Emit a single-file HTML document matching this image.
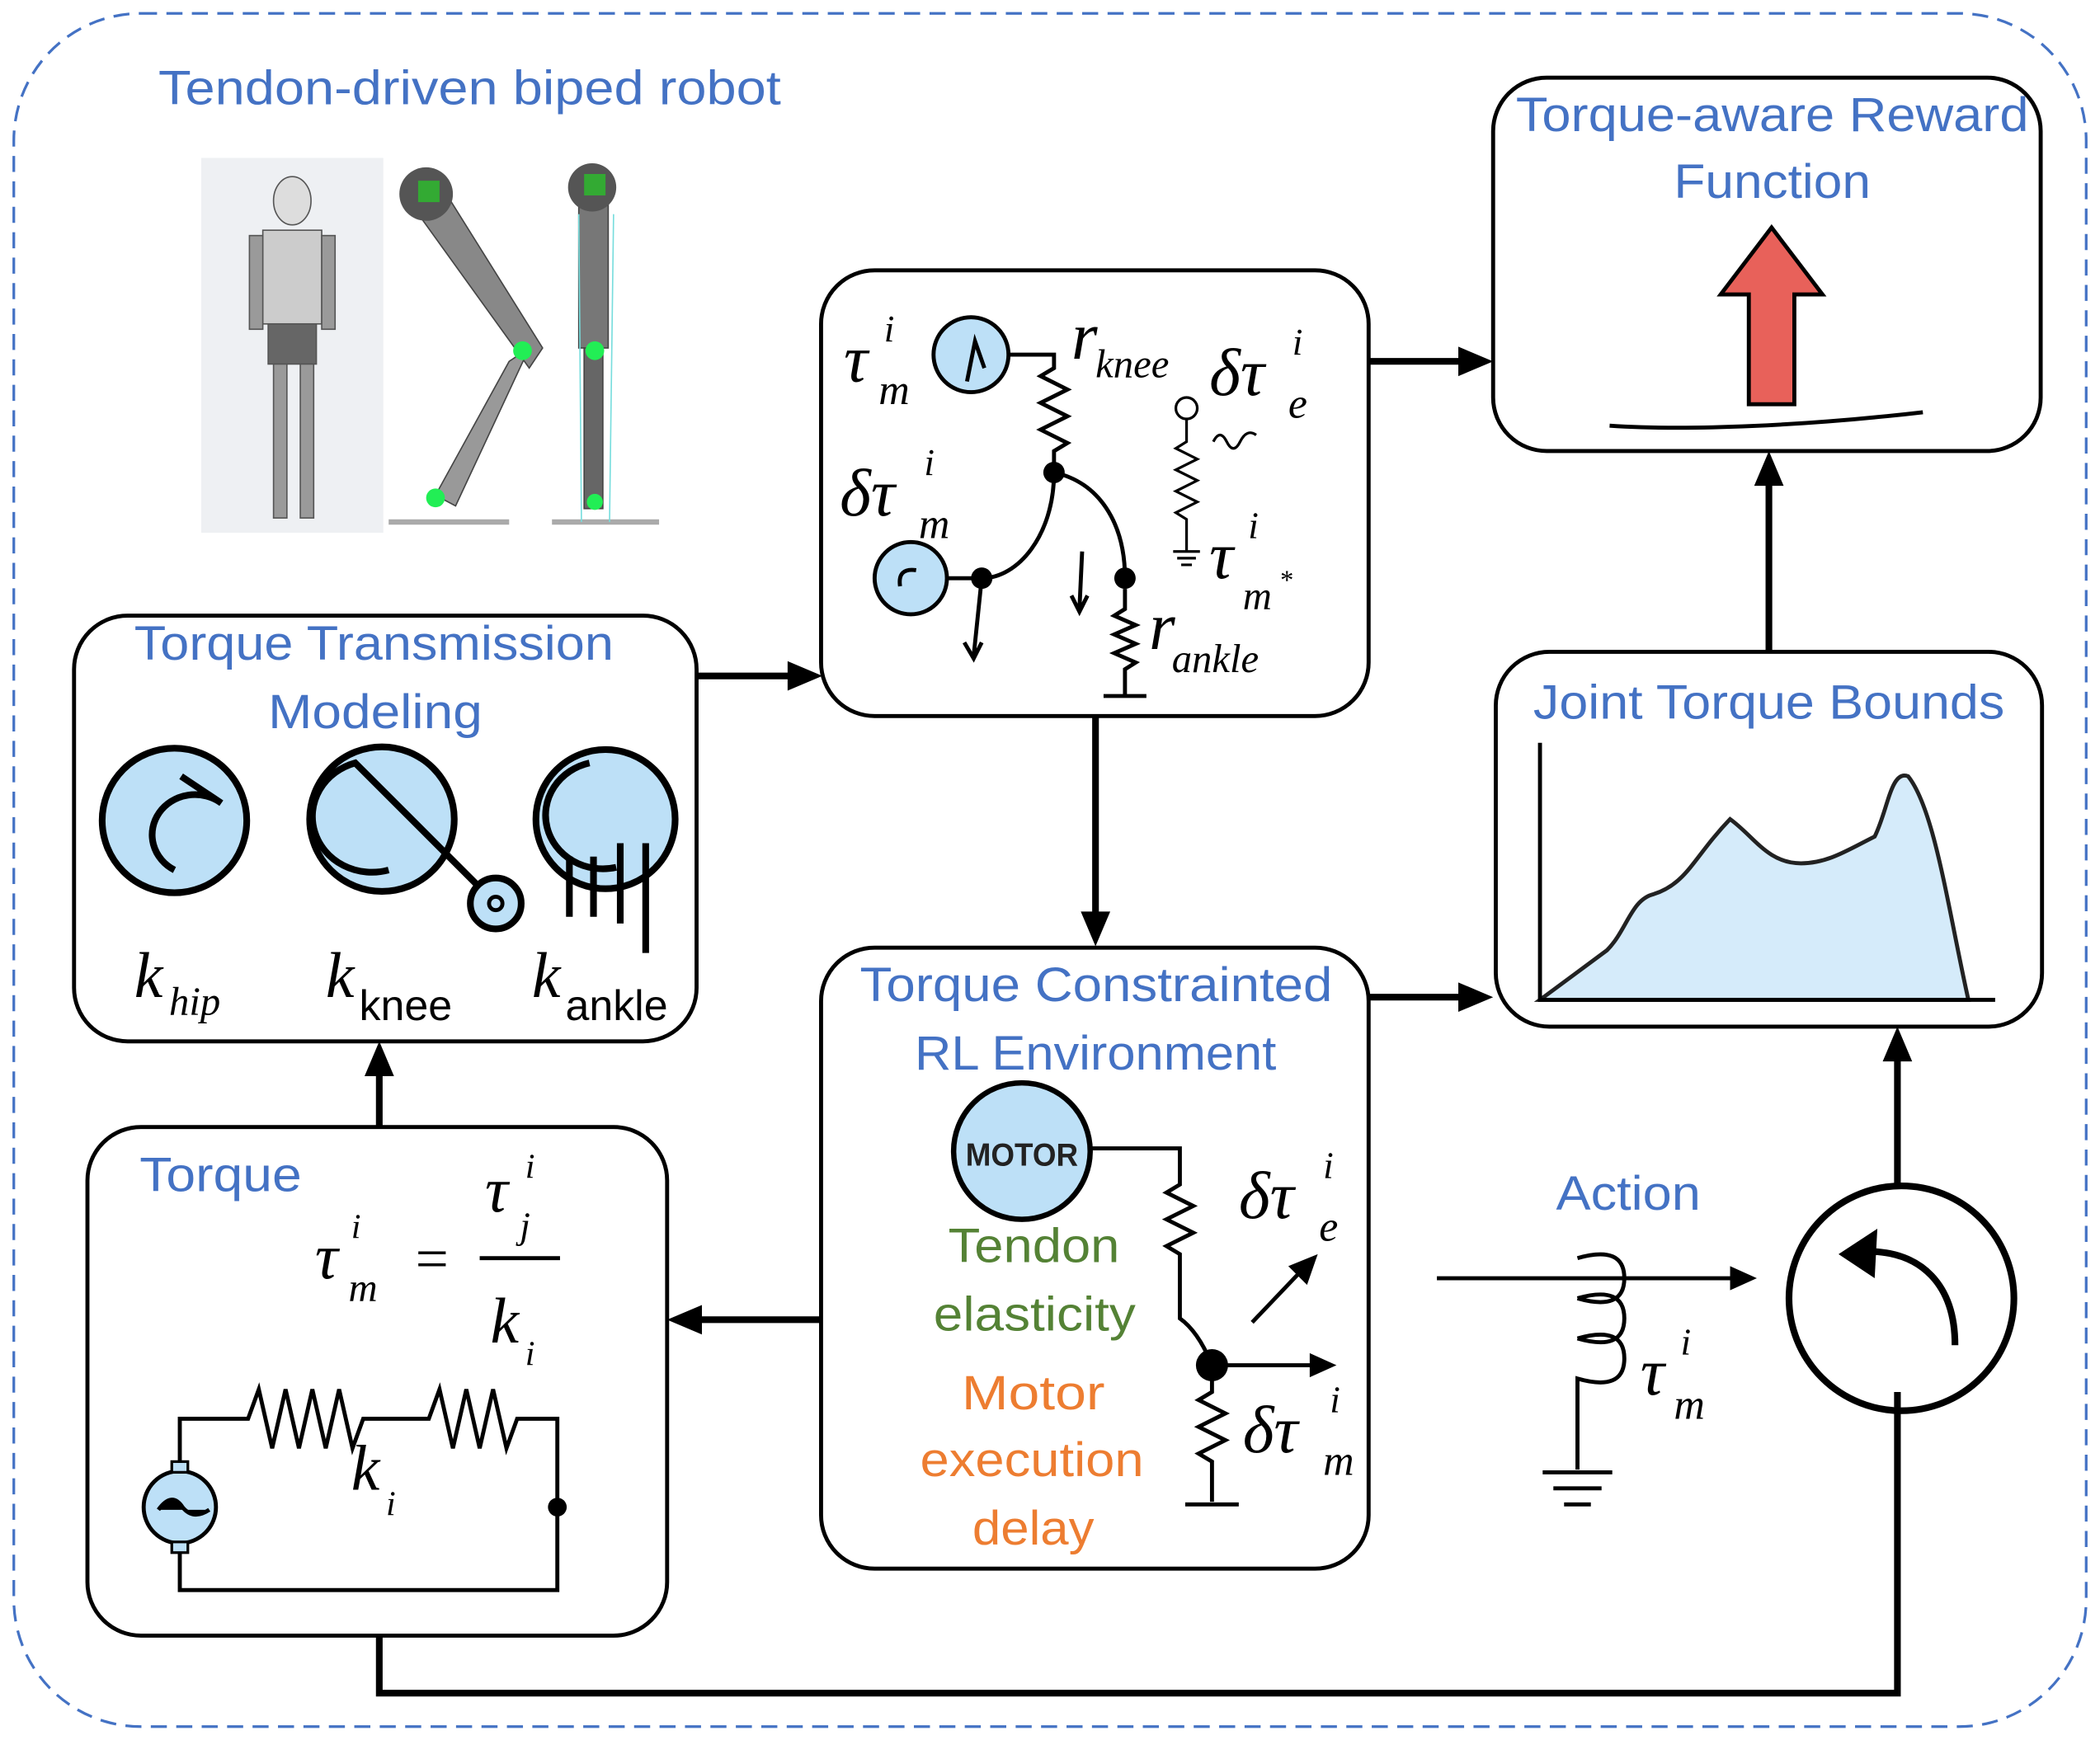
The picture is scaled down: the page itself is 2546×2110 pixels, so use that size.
<!DOCTYPE html>
<html><head><style>
html,body{margin:0;padding:0;background:#fff;}
svg{display:block;}
.b{font-family:"Liberation Sans","DejaVu Sans",sans-serif;fill:#4472C4;font-size:36px;}
.m{font-family:"Liberation Serif","DejaVu Serif",serif;font-style:italic;fill:#000;}
.box{fill:#fff;stroke:#000;stroke-width:3;}
.ln{stroke:#000;stroke-width:5;fill:none;}
.th{stroke:#000;stroke-width:3;fill:none;}
.g{font-family:"Liberation Sans",sans-serif;font-size:36px;fill:#548235;}
.o{font-family:"Liberation Sans",sans-serif;font-size:36px;fill:#ED7D31;}
</style></head><body>
<svg width="2546" height="2110" viewBox="0 0 1568 1300" xmlns="http://www.w3.org/2000/svg">
<rect x="10" y="10" width="1548" height="1280" rx="95" fill="none" stroke="#4472C4" stroke-width="2" stroke-dasharray="12,7"/>
<text class="b" x="118" y="78" textLength="465" lengthAdjust="spacingAndGlyphs">Tendon-driven biped robot</text>

<!-- robot images -->
<rect x="150" y="118" width="136" height="280" fill="#eef0f3"/>
<g fill="#9a9a9a" stroke="#555" stroke-width="1">
<ellipse cx="218" cy="150" rx="14" ry="18" fill="#ddd"/>
<rect x="196" y="172" width="44" height="70" fill="#ccc"/>
<rect x="186" y="176" width="10" height="70"/><rect x="240" y="176" width="10" height="70"/>
<rect x="200" y="242" width="36" height="30" fill="#666"/>
<rect x="204" y="272" width="10" height="115"/><rect x="224" y="272" width="10" height="115"/>
</g>
<g>
<polygon points="305,150 330,140 405,260 395,275" fill="#888" stroke="#444"/>
<polygon points="395,260 380,270 325,370 340,378" fill="#999" stroke="#444"/>
<circle cx="318" cy="145" r="20" fill="#555"/><rect x="312" y="135" width="16" height="16" fill="#3a3"/>
<circle cx="390" cy="262" r="7" fill="#2e5"/><circle cx="325" cy="372" r="7" fill="#2e5"/>
<path d="M290,390 L380,390" stroke="#aaa" stroke-width="4"/>
<rect x="432" y="150" width="22" height="110" fill="#777" stroke="#444"/>
<rect x="436" y="260" width="14" height="120" fill="#666" stroke="#444"/>
<circle cx="442" cy="140" r="18" fill="#555"/><rect x="436" y="130" width="16" height="16" fill="#3a3"/>
<circle cx="444" cy="262" r="7" fill="#2e5"/><circle cx="444" cy="375" r="6" fill="#2e5"/>
<path d="M412,390 L492,390" stroke="#aaa" stroke-width="4"/>
<path d="M432,160 L434,390 M458,160 L455,390" stroke="#7dd" stroke-width="1"/>
</g>

<!-- Torque Transmission box -->
<rect class="box" x="55" y="460" width="465" height="318" rx="40"/>
<text class="b" x="100" y="493" textLength="358" lengthAdjust="spacingAndGlyphs">Torque Transmission</text>
<text class="b" x="200" y="544" textLength="160" lengthAdjust="spacingAndGlyphs">Modeling</text>
<g stroke="#000" stroke-width="5" fill="#BDE0F7">
<circle cx="130" cy="613" r="54"/><circle cx="285" cy="612" r="54"/><circle cx="452" cy="612" r="52"/>
</g>
<g class="ln">
<path d="M130,650 A32,30 0 1 1 165,600 L135,580"/>
<path d="M290,650 A32,30 0 1 1 265,570 L365,670"/>
<path d="M460,648 A32,30 0 1 1 440,570"/>
<path d="M425,640 V685 M443,640 V685 M463,630 V690 M482,630 V712"/>
</g>
<circle cx="370" cy="675" r="19" fill="#BDE0F7" stroke="#000" stroke-width="5"/>
<circle cx="370" cy="675" r="5" fill="none" stroke="#000" stroke-width="3"/>
<text class="m" x="100" y="745" font-size="48">k</text><text class="m" x="126" y="758" font-size="30">hip</text>
<text class="m" x="243" y="745" font-size="48">k</text><text x="268" y="762" font-size="32" font-family="Liberation Sans,sans-serif">knee</text>
<text class="m" x="397" y="745" font-size="48">k</text><text x="422" y="762" font-size="32" font-family="Liberation Sans,sans-serif">ankle</text>

<!-- Torque box -->
<rect class="box" x="65" y="842" width="433" height="380" rx="40"/>
<text class="b" x="104" y="890" textLength="121" lengthAdjust="spacingAndGlyphs">Torque</text>
<text class="m" x="235" y="955" font-size="48">τ</text><text class="m" x="262" y="925" font-size="26">i</text><text class="m" x="260" y="972" font-size="30">m</text>
<text x="310" y="955" font-size="44" font-family="Liberation Serif,serif">=</text>
<text class="m" x="362" y="905" font-size="48">τ</text><text class="m" x="392" y="880" font-size="26">i</text><text class="m" x="388" y="925" font-size="28">j</text>
<path d="M358,940 H418" stroke="#000" stroke-width="3"/>
<text class="m" x="366" y="1003" font-size="48">k</text><text class="m" x="392" y="1020" font-size="26">i</text>
<path class="th" d="M134,1098 V1060 H185 l8,-22 l10,44 l10,-44 l10,44 l10,-44 l10,44 l10,-44 l10,44 l8,-22 H320 l8,-22 l10,44 l10,-44 l10,44 l10,-44 l10,44 l8,-22 H416 V1188 H134 V1150"/>
<circle cx="416" cy="1126" r="7" fill="#000"/>
<circle cx="134" cy="1126" r="27" fill="#BDE0F7" stroke="#000" stroke-width="3"/>
<rect x="128" y="1092" width="12" height="8" fill="#BDE0F7" stroke="#000" stroke-width="2"/>
<rect x="128" y="1152" width="12" height="8" fill="#BDE0F7" stroke="#000" stroke-width="2"/>
<path d="M118,1128 q10,-14 18,-2 q8,10 20,2" stroke="#000" stroke-width="3" fill="#000"/>
<text class="m" x="262" y="1113" font-size="48">k</text><text class="m" x="288" y="1132" font-size="26">i</text>

<!-- central top box -->
<rect class="box" x="613" y="202" width="409" height="333" rx="40"/>
<text class="m" x="630" y="285" font-size="50">τ</text><text class="m" x="660" y="255" font-size="28">i</text><text class="m" x="656" y="302" font-size="32">m</text>
<circle cx="725" cy="265" r="28" fill="#BDE0F7" stroke="#000" stroke-width="3"/>
<path class="th" d="M722,285 L728,255 L735,275"/>
<path class="th" d="M753,265 H787 V275 l-10,6 l20,10 l-20,10 l20,10 l-20,10 l20,10 l-10,6 V352"/>
<text class="m" x="800" y="268" font-size="50">r</text><text class="m" x="818" y="282" font-size="30">knee</text>
<text class="m" x="903" y="295" font-size="50">δτ</text><text class="m" x="965" y="265" font-size="28">i</text><text class="m" x="962" y="312" font-size="32">e</text>
<circle cx="886" cy="305" r="8" fill="#fff" stroke="#000" stroke-width="2"/>
<path d="M886,313 V330 l-8,5 l16,8 l-16,8 l16,8 l-16,8 l16,8 l-16,8 l8,5 V412 M876,412 H896 M879,417 H893 M882,422 H890" stroke="#000" stroke-width="2" fill="none"/>
<path d="M906,330 q5,-10 10,0 q5,10 10,0 q5,-10 12,-5" stroke="#000" stroke-width="2" fill="none"/>
<text class="m" x="903" y="432" font-size="50">τ</text><text class="m" x="932" y="402" font-size="28">i</text><text class="m" x="928" y="455" font-size="30">m</text><text x="956" y="440" font-size="20">*</text>
<circle cx="787" cy="353" r="8" fill="#000"/>
<path class="th" d="M787,353 C787,400 760,432 733,432"/>
<path class="th" d="M787,353 C820,360 840,390 840,432"/>
<circle cx="733" cy="432" r="8" fill="#000"/><circle cx="840" cy="432" r="8" fill="#000"/>
<path class="th" d="M733,432 L727,490 M720,480 L727,492 L733,480"/>
<path class="th" d="M808,412 L806,455 M800,445 L806,457 L812,445"/>
<text class="m" x="627" y="385" font-size="50">δτ</text><text class="m" x="690" y="355" font-size="28">i</text><text class="m" x="686" y="402" font-size="32">m</text>
<circle cx="680" cy="432" r="27" fill="#BDE0F7" stroke="#000" stroke-width="3"/>
<path class="th" d="M672,438 q-2,-14 12,-12"/>
<path class="th" d="M707,432 H733"/>
<path d="M840,440 V455 l-8,5 l16,7 l-16,7 l16,7 l-16,7 l16,7 l-8,5 V520 M824,520 H856" stroke="#000" stroke-width="3" fill="none"/>
<text class="m" x="858" y="485" font-size="50">r</text><text class="m" x="875" y="502" font-size="30">ankle</text>

<!-- RL env box -->
<rect class="box" x="613" y="708" width="409" height="464" rx="40"/>
<text class="b" x="642" y="748" textLength="353" lengthAdjust="spacingAndGlyphs">Torque Constrainted</text>
<text class="b" x="683" y="799" textLength="270" lengthAdjust="spacingAndGlyphs">RL Environment</text>
<circle cx="763" cy="860" r="51" fill="#BDE0F7" stroke="#000" stroke-width="4"/>
<text x="763" y="871" text-anchor="middle" font-family="Liberation Sans,sans-serif" font-weight="bold" font-size="24" fill="#222" textLength="84" lengthAdjust="spacingAndGlyphs">MOTOR</text>
<path class="th" d="M814,858 H881 V885 l-10,6 l20,10 l-20,10 l20,10 l-20,10 l10,6 V985 Q895,995 905,1020 V1040 l-10,6 l20,10 l-20,10 l20,10 l-20,10 l10,6 V1122 M885,1124 H925"/>
<circle cx="905" cy="1020" r="12" fill="#000"/>
<path class="th" d="M905,1020 H985"/>
<polygon points="998,1020 978,1011 978,1029" fill="#000"/>
<path class="th" d="M935,988 L975,946"/>
<polygon points="984,937 962,946 976,960" fill="#000"/>
<text class="g" x="708" y="943" textLength="128" lengthAdjust="spacingAndGlyphs">Tendon</text>
<text class="g" x="697" y="994" textLength="151" lengthAdjust="spacingAndGlyphs">elasticity</text>
<text class="o" x="718" y="1053" textLength="107" lengthAdjust="spacingAndGlyphs">Motor</text>
<text class="o" x="687" y="1103" textLength="167" lengthAdjust="spacingAndGlyphs">execution</text>
<text class="o" x="726" y="1154" textLength="91" lengthAdjust="spacingAndGlyphs">delay</text>
<text class="m" x="925" y="910" font-size="50">δτ</text><text class="m" x="988" y="880" font-size="28">i</text><text class="m" x="985" y="927" font-size="32">e</text>
<text class="m" x="928" y="1085" font-size="50">δτ</text><text class="m" x="993" y="1055" font-size="28">i</text><text class="m" x="988" y="1102" font-size="32">m</text>

<!-- Reward box -->
<rect class="box" x="1115" y="58" width="409" height="279" rx="40"/>
<text class="b" x="1132" y="98" textLength="383" lengthAdjust="spacingAndGlyphs">Torque-aware Reward</text>
<text class="b" x="1250" y="148" textLength="147" lengthAdjust="spacingAndGlyphs">Function</text>
<polygon points="1306,302 1340,302 1340,220 1361,220 1323,170 1285,220 1306,220" fill="#E8615A" stroke="#000" stroke-width="3"/>
<path class="th" d="M1202,318 C1260,322 1350,318 1436,308"/>

<!-- Joint torque bounds -->
<rect class="box" x="1117" y="487" width="408" height="280" rx="40"/>
<text class="b" x="1145" y="537" textLength="352" lengthAdjust="spacingAndGlyphs">Joint Torque Bounds</text>
<path d="M1150,747 L1200,710 C1215,695 1218,672 1235,668 C1260,660 1265,640 1292,612 C1310,625 1320,645 1345,645 C1365,645 1380,635 1400,625 C1410,605 1412,575 1425,580 C1445,605 1455,680 1470,747 Z" fill="#D5EBFA" stroke="#222" stroke-width="3"/>
<path class="th" d="M1150,555 V747 H1490"/>

<!-- Action / inductor -->
<text class="b" x="1162" y="904" textLength="108" lengthAdjust="spacingAndGlyphs">Action</text>
<path class="th" d="M1073,955 H1300"/>
<polygon points="1312,955 1292,946 1292,964" fill="#000"/>
<path class="th" d="M1178,940 q35,-10 35,15 q0,25 -35,15 M1178,970 q35,-10 35,15 q0,25 -35,15 M1178,1000 q35,-10 35,15 q0,25 -35,15 V1098 M1152,1100 H1204 M1160,1112 H1196 M1168,1124 H1188"/>
<text class="m" x="1225" y="1042" font-size="50">τ</text><text class="m" x="1255" y="1012" font-size="28">i</text><text class="m" x="1250" y="1060" font-size="32">m</text>
<circle cx="1420" cy="970" r="84" fill="#fff" stroke="#000" stroke-width="5"/>
<path class="ln" d="M1460,1005 C1460,960 1435,935 1395,935"/>
<polygon points="1373,937 1402,918 1400,955" fill="#000"/>

<!-- connectors -->
<g class="ln">
<path d="M520,505 H590"/><path d="M1022,270 H1092"/><path d="M818,535 V685"/>
<path d="M1022,745 H1092"/><path d="M1321,487 V360"/><path d="M612,986 H520"/>
<path d="M283,842 V800"/><path d="M283,1222 V1265 H1417 V1040"/><path d="M1417,886 V790"/>
</g>
<g fill="#000">
<polygon points="614,505 588,494 588,516"/>
<polygon points="1115,270 1089,259 1089,281"/>
<polygon points="818,707 807,681 829,681"/>
<polygon points="1115,745 1089,734 1089,756"/>
<polygon points="1321,337 1310,363 1332,363"/>
<polygon points="498,986 524,975 524,997"/>
<polygon points="283,778 272,804 294,804"/>
<polygon points="1417,767 1406,793 1428,793"/>
</g>
</svg>
</body></html>
